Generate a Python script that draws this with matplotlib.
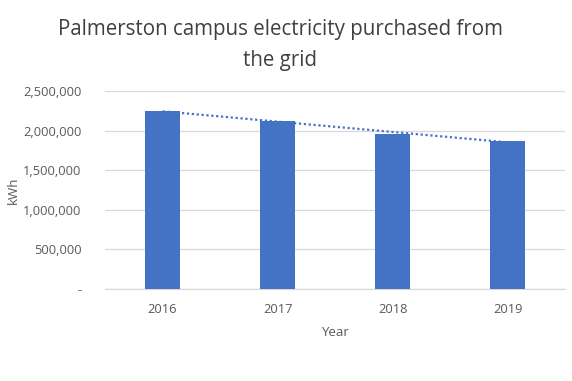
import matplotlib
matplotlib.use("Agg")
import matplotlib.pyplot as plt
import numpy as np
from matplotlib.ticker import FuncFormatter

years = ["2016", "2017", "2018", "2019"]
kwh = [2247000, 2121000, 1961000, 1865000]
yticks = [0, 500000, 1000000, 1500000, 2000000, 2500000]

plt.rcParams['font.family'] = ['Open Sans', 'DejaVu Sans']

fig = plt.figure(figsize=(5.72, 3.81), dpi=100)
ax = fig.add_axes([0.1836, 0.2415, 0.8044, 0.5195])

x = np.arange(len(years))
ax.bar(x, kwh, width=0.30, color="#4472C4", zorder=3)

# linear trendline
coef = np.polyfit(x, kwh, 1)
ax.plot(x, np.polyval(coef, x), linestyle=(0, (1, 1.2)), color="#4472C4",
        linewidth=1.6, zorder=4)

ax.set_xlim(-0.5, len(years) - 0.5)
ax.set_ylim(0, 2500000)
ax.set_yticks(yticks)
ax.yaxis.set_major_formatter(FuncFormatter(lambda v, p: "-" if v == 0 else f"{int(v):,}"))
ax.set_xticks(x)
ax.set_xticklabels(years)

ax.grid(axis="y", color="#D9D9D9", linewidth=0.9, zorder=0)
for s in ["top", "right", "left"]:
    ax.spines[s].set_visible(False)
ax.spines["bottom"].set_color("#D9D9D9")
ax.spines["bottom"].set_linewidth(0.9)
ax.tick_params(axis="both", length=0, colors="#595959", labelsize=9.3)
ax.tick_params(axis="x", pad=10)
ax.tick_params(axis="y", pad=17)

ax.set_xlabel("Year", color="#595959", fontsize=9.5, labelpad=7)
ax.set_ylabel("kWh", color="#595959", fontsize=9.5)
ax.yaxis.set_label_coords(-0.185, 0.5)

fig.text(0.49, 0.882, "Palmerston campus electricity purchased from\nthe grid",
         ha="center", va="center", fontsize=14.8, color="#404040", linespacing=1.6)

fig.savefig("out.png", dpi=100)
